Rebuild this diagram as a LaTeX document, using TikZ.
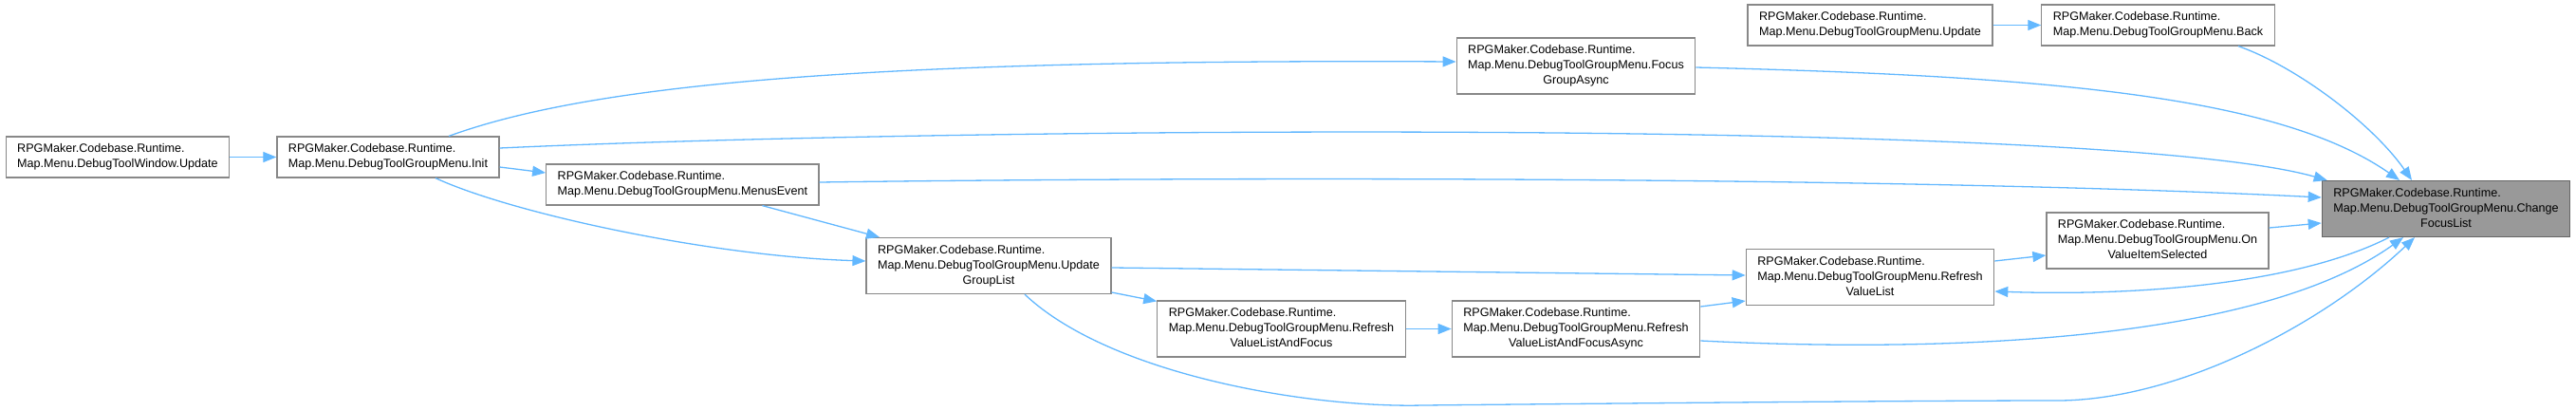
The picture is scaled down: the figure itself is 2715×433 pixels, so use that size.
\documentclass[tikz,border=0pt]{standalone}
\usepackage{fontspec}
\setmainfont{Liberation Sans}
\usetikzlibrary{arrows.meta}
\definecolor{EdgeBlue}{HTML}{63B8FF}
\definecolor{BoxLine}{HTML}{888888}
\definecolor{RootLine}{HTML}{666666}
\definecolor{RootFill}{HTML}{999999}
\newcommand{\threelines}[3]{\begin{tabular}{@{}l@{}}#1\\#2\\\multicolumn{1}{@{}c@{}}{#3}\end{tabular}}

\begin{document}
\begin{tikzpicture}[x=1pt,y=1pt,
  fnbox/.style={draw=BoxLine,line width=1.2pt,fill=white,font=\fontsize{12.6}{16}\selectfont,align=left,inner xsep=12pt,inner ysep=0pt,minimum height=43pt},
  tallbox/.style={fnbox,minimum height=59pt},
  rootbox/.style={tallbox,draw=RootLine,fill=RootFill},
  callarrow/.style={draw=EdgeBlue,line width=1.3pt,-{Triangle[length=14pt,width=11pt]}}]
\useasboundingbox (0,0) rectangle (2715,-433);

% Boites
\node[fnbox] (win) at (124,-165.5) {RPGMaker.Codebase.Runtime.\\Map.Menu.DebugToolWindow.Update};
\node[fnbox] (init) at (409,-165.5) {RPGMaker.Codebase.Runtime.\\Map.Menu.DebugToolGroupMenu.Init};
\node[fnbox] (me) at (719.4,-194.5) {RPGMaker.Codebase.Runtime.\\Map.Menu.DebugToolGroupMenu.MenusEvent};
\node[tallbox] (ugl) at (1042,-280) {\threelines{RPGMaker.Codebase.Runtime.}{Map.Menu.DebugToolGroupMenu.Update}{GroupList}};
\node[tallbox] (fga) at (1661,-69.5) {\threelines{RPGMaker.Codebase.Runtime.}{Map.Menu.DebugToolGroupMenu.Focus}{GroupAsync}};
\node[tallbox] (rvlaf) at (1350.5,-346.5) {\threelines{RPGMaker.Codebase.Runtime.}{Map.Menu.DebugToolGroupMenu.Refresh}{ValueListAndFocus}};
\node[tallbox] (rvlafa) at (1661,-346.5) {\threelines{RPGMaker.Codebase.Runtime.}{Map.Menu.DebugToolGroupMenu.Refresh}{ValueListAndFocusAsync}};
\node[fnbox] (upd) at (1971,-26.5) {RPGMaker.Codebase.Runtime.\\Map.Menu.DebugToolGroupMenu.Update};
\node[fnbox] (back) at (2274.5,-26.5) {RPGMaker.Codebase.Runtime.\\Map.Menu.DebugToolGroupMenu.Back};
\node[tallbox] (rvl) at (1971,-292) {\threelines{RPGMaker.Codebase.Runtime.}{Map.Menu.DebugToolGroupMenu.Refresh}{ValueList}};
\node[tallbox] (ovis) at (2274,-253.5) {\threelines{RPGMaker.Codebase.Runtime.}{Map.Menu.DebugToolGroupMenu.On}{ValueItemSelected}};
\node[rootbox] (cfl) at (2578,-220) {\threelines{RPGMaker.Codebase.Runtime.}{Map.Menu.DebugToolGroupMenu.Change}{FocusList}};

% Appels depuis la gauche
\draw[callarrow] (win) -- (init);
\draw[callarrow] ([yshift=-10.5]init.east) -- ([yshift=12.5]me.west);
\draw[callarrow] ([xshift=64]init.north) .. controls (620,-90) and (900,-62) .. ([yshift=4.5]fga.west);
\draw[callarrow] ([xshift=50]init.south) .. controls (540,-225) and (750,-270) .. ([yshift=5]ugl.west);
\draw[callarrow] ([yshift=9.5]init.east) .. controls (1000,-134) and (2220,-124) .. ([xshift=6]cfl.north west);
\draw[callarrow] ([xshift=84]me.south) -- ([xshift=-115]ugl.north);
\draw[callarrow] ([yshift=2.5]me.east) .. controls (1300,-186) and (2000,-186) .. ([yshift=12]cfl.west);

% Milieu
\draw[callarrow] ([yshift=-2]ugl.east) -- ([yshift=2]rvl.west);
\draw[callarrow] ([yshift=-28]ugl.east) -- ([yshift=-1]rvlaf.north west);
\draw[callarrow] ([xshift=38]ugl.south) .. controls (1170,-395) and (1380,-430) .. (1500,-427)
  .. controls (1800,-424) and (2050,-422) .. (2172,-422)
  .. controls (2300,-420) and (2450,-340) .. ([xshift=-33]cfl.south);
\draw[callarrow] (rvlaf) -- (rvlafa);
\draw[callarrow] ([yshift=23.5]rvlafa.east) -- ([yshift=-25]rvl.west);
\draw[callarrow] ([yshift=-12.5]rvlafa.east) .. controls (2050,-372) and (2380,-360) .. ([xshift=-45]cfl.south);
\draw[callarrow] ([yshift=-1.5]fga.east) .. controls (2150,-80) and (2400,-100) .. ([xshift=-49]cfl.north);

% Droite
\draw[callarrow] (upd) -- (back);
\draw[callarrow] ([xshift=84.5]back.south) .. controls (2420,-70) and (2500,-130) .. ([xshift=-36]cfl.north);
\draw[callarrow] ([yshift=17]rvl.east) -- ([yshift=-15.5]ovis.west);
\draw[callarrow] ([yshift=13.5]ovis.east) -- ([yshift=-15]cfl.west);
\draw[callarrow] ([xshift=-60]cfl.south) .. controls (2420,-300) and (2250,-312) .. ([yshift=-15]rvl.east);
\end{tikzpicture}
\end{document}
